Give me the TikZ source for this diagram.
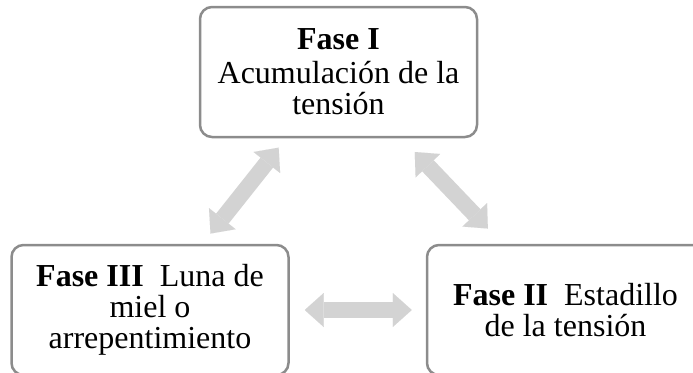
\documentclass[tikz,border=0pt]{standalone}
\usepackage{fontspec}
\setmainfont{Liberation Serif}
\usetikzlibrary{arrows.meta}
\definecolor{boxgray}{RGB}{140,140,140}
\definecolor{arrowgray}{RGB}{211,211,211}

\begin{document}
\begin{tikzpicture}[x=1pt,y=-1pt,
	fase/.style={draw=boxgray, line width=2.5pt, rounded corners=12pt, minimum width=277pt, minimum height=130pt, inner sep=0pt, align=center, font=\fontsize{32}{31}\selectfont},
	vaiven/.style={draw=arrowgray, line width=16pt, {Triangle[length=19pt,width=34pt,line width=0.01pt]}-{Triangle[length=19pt,width=34pt,line width=0.01pt]}}]
	\useasboundingbox (0,0) rectangle (693,372);
	\clip (0,0) rectangle (693,372);
	
	\node[fase] (f1) at (338.5,72) {\textbf{Fase I}\\[3pt] Acumulación de la\\ tensión};
	\node[fase] (f2) at (565.5,310) {\textbf{Fase II}\ \ Estadillo\\ de la tensión};
	\node[fase] (f3) at (150,310) {\textbf{Fase III}\ \ Luna de\\ miel o\\ arrepentimiento};
	
	\draw[vaiven, shorten <=13pt, shorten >=12pt] (f3) -- (f1);
	\draw[vaiven, shorten <=19pt, shorten >=21pt] (f1) -- (f2);
	\draw[vaiven, shorten <=15pt, shorten >=14pt] (f3) -- (f2);
\end{tikzpicture}
\end{document}
